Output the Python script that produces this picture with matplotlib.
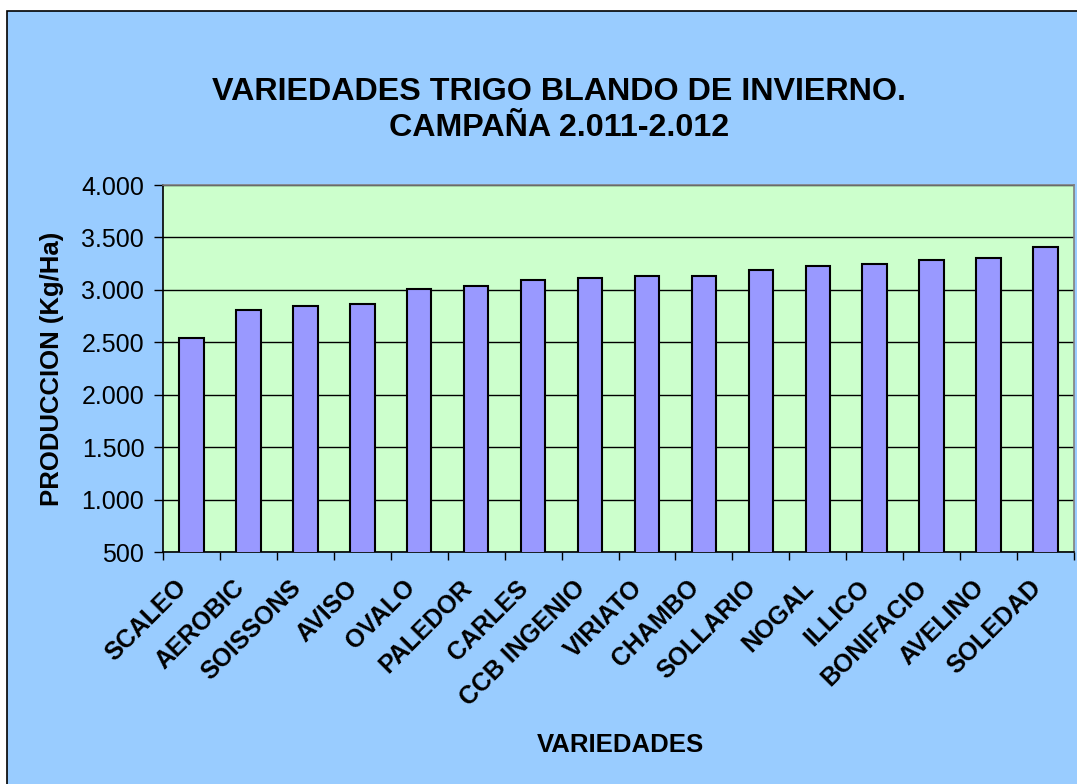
"""
Variedades de trigo blando de invierno, campaña 2011-2012: producción en Kg/Ha.
"""
import matplotlib
matplotlib.use("Agg")
import matplotlib.pyplot as plt
import matplotlib.transforms as mtransforms
from matplotlib import patches
from matplotlib.ticker import FuncFormatter

# Datos
variedades = ["SCALEO", "AEROBIC", "SOISSONS", "AVISO", "OVALO", "PALEDOR",
              "CARLES", "CCB INGENIO", "VIRIATO", "CHAMBO", "SOLLARIO",
              "NOGAL", "ILLICO", "BONIFACIO", "AVELINO", "SOLEDAD"]
produccion = [2540, 2808, 2846, 2865, 3005, 3035, 3096, 3115,
              3135, 3135, 3192, 3231, 3250, 3288, 3308, 3404]
y_ticks = [500, 1000, 1500, 2000, 2500, 3000, 3500, 4000]

plt.rcParams["font.family"] = ["Liberation Sans", "DejaVu Sans"]

W, H = 1077, 784
fig = plt.figure(figsize=(W / 100, H / 100), dpi=100, facecolor="white")

# Fondo azul del área del gráfico (estilo Excel)
fondo = patches.Rectangle((7 / W, -0.05), 1.1, 1 - 11 / H + 0.05,
                          transform=fig.transFigure, facecolor="#99CCFF",
                          edgecolor="black", lw=1.2, zorder=-10)
fig.add_artist(fondo)

ax = fig.add_axes([163 / W, 1 - 552 / H, (1074 - 163) / W, (552 - 185) / H])
ax.set_facecolor("#CCFFCC")

x = range(len(variedades))
ax.bar(x, produccion, width=0.43, color="#9999FF", edgecolor="black",
       linewidth=1.5, zorder=3)

ax.set_ylim(500, 4000)
ax.set_xlim(-0.5, len(variedades) - 0.5)
ax.set_yticks(y_ticks)
ax.yaxis.set_major_formatter(FuncFormatter(lambda v, p: f"{int(v):,}".replace(",", ".")))
ax.tick_params(axis="y", direction="out", length=6.5, width=1, labelsize=18, pad=7)
ax.grid(axis="y", color="black", lw=1, zorder=1)

# Marcas entre categorías, etiquetas en el centro
ax.set_xticks([i - 0.5 for i in range(len(variedades) + 1)], minor=True)
ax.set_xticks(list(x))
ax.tick_params(axis="x", which="minor", direction="out", length=6, width=1)
ax.tick_params(axis="x", which="major", length=0)
offset = mtransforms.ScaledTranslation(-12 / 72, -17 / 72, fig.dpi_scale_trans)
ax.set_xticklabels(variedades, rotation=45, ha="right", va="top",
                   rotation_mode="anchor", fontsize=18, fontweight="bold")
for lbl in ax.get_xticklabels():
    lbl.set_transform(ax.get_xaxis_transform() + offset)
    lbl.set_y(0)

for lado in ["top", "right"]:
    ax.spines[lado].set_color("#808080")
for lado in ["left", "bottom"]:
    ax.spines[lado].set_color("black")
for sp in ax.spines.values():
    sp.set_linewidth(1.2)

fig.text(559 / W, 1 - 110 / H,
         "VARIEDADES TRIGO BLANDO DE INVIERNO.\nCAMPAÑA 2.011-2.012",
         ha="center", va="center", fontsize=23.2, fontweight="bold",
         linespacing=1.25)
fig.text(52 / W, 1 - 369 / H, "PRODUCCION (Kg/Ha)", rotation=90,
         ha="center", va="center", fontsize=18.5, fontweight="bold")
fig.text(620 / W, 1 - 745 / H, "VARIEDADES", ha="center", va="center",
         fontsize=18.5, fontweight="bold")

fig.savefig("out.png", dpi=100, facecolor="white")
